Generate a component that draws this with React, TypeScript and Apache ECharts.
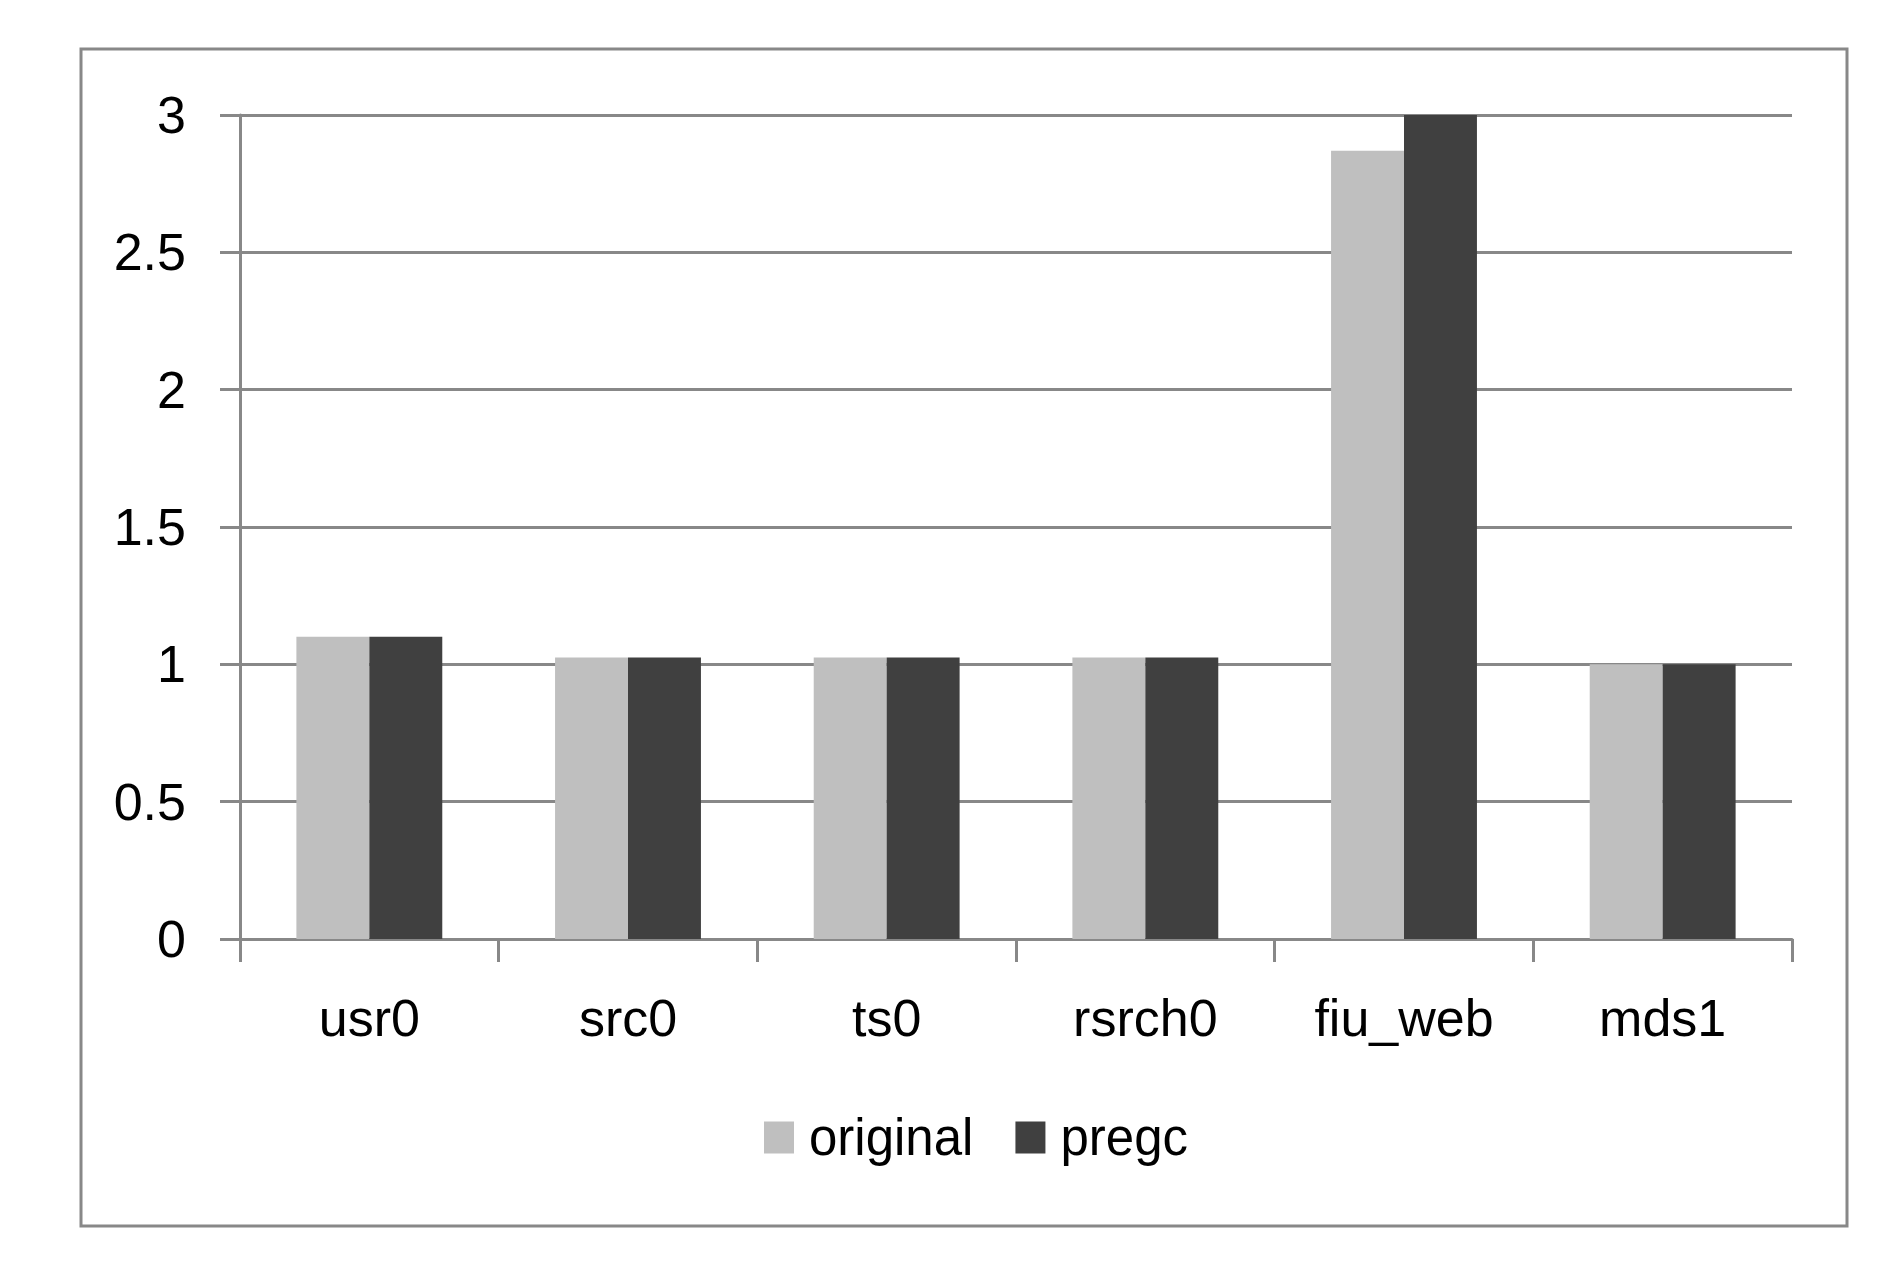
import React, { useEffect, useRef } from "react";
import * as echarts from "echarts";

const categories = ["usr0", "src0", "ts0", "rsrch0", "fiu_web", "mds1"];
const originalValues = [1.1, 1.025, 1.025, 1.025, 2.87, 1.0];
const pregcValues = [1.1, 1.025, 1.025, 1.025, 3.0, 1.0];
const seriesNames = ["original", "pregc"];

const FONT = "'Liberation Sans', Arial, sans-serif";

export default function App() {
  const ref = useRef<HTMLDivElement>(null);
  useEffect(() => {
    document.body.style.margin = "0";
    const chart = echarts.init(ref.current!, null, { renderer: "svg" });
    chart.setOption({
      animation: false,
      backgroundColor: "#ffffff",
      graphic: [
        {
          type: "rect",
          shape: { x: 81, y: 49, width: 1766, height: 1177 },
          style: { fill: "none", stroke: "#888888", lineWidth: 3 },
          z: 0,
        },
      ],
      grid: { left: 240, right: 86, top: 115, bottom: 330, containLabel: false },
      legend: {
        data: seriesNames,
        left: 764,
        top: 1112,
        padding: 0,
        itemWidth: 30,
        itemHeight: 32,
        itemGap: 42,
        icon: "rect",
        formatter: (name: string) => "{a|" + name + "}",
        textStyle: {
          fontFamily: FONT,
          fontSize: 51,
          color: "#000",
          rich: { a: { fontFamily: FONT, fontSize: 51, color: "#000", padding: [0, 0, 0, 10] } },
        },
      },
      xAxis: {
        type: "category",
        data: categories,
        axisLine: { lineStyle: { color: "#888888", width: 3 } },
        axisTick: { show: true, length: 23, lineStyle: { color: "#888888", width: 3 }, alignWithLabel: false },
        axisLabel: { fontFamily: FONT, fontSize: 52, color: "#000", margin: 53 },
        splitLine: { show: false },
      },
      yAxis: {
        type: "value",
        min: 0,
        max: 3,
        interval: 0.5,
        axisLine: { show: true, lineStyle: { color: "#888888", width: 3 } },
        axisTick: { show: true, length: 20, lineStyle: { color: "#888888", width: 3 } },
        axisLabel: { fontFamily: FONT, fontSize: 52, color: "#000", margin: 54 },
        splitLine: { show: true, lineStyle: { color: "#888888", width: 3 } },
      },
      series: [
        {
          name: seriesNames[0],
          type: "bar",
          data: originalValues,
          itemStyle: { color: "#BFBFBF" },
          barGap: "0%",
          barCategoryGap: "43.6%",
        },
        {
          name: seriesNames[1],
          type: "bar",
          data: pregcValues,
          itemStyle: { color: "#404040" },
          barGap: "0%",
          barCategoryGap: "43.6%",
        },
      ],
    });
    return () => chart.dispose();
  }, []);
  return (
    <div
      ref={ref}
      style={{ position: "absolute", left: 0, top: 0, width: 1878, height: 1269 }}
    />
  );
}
